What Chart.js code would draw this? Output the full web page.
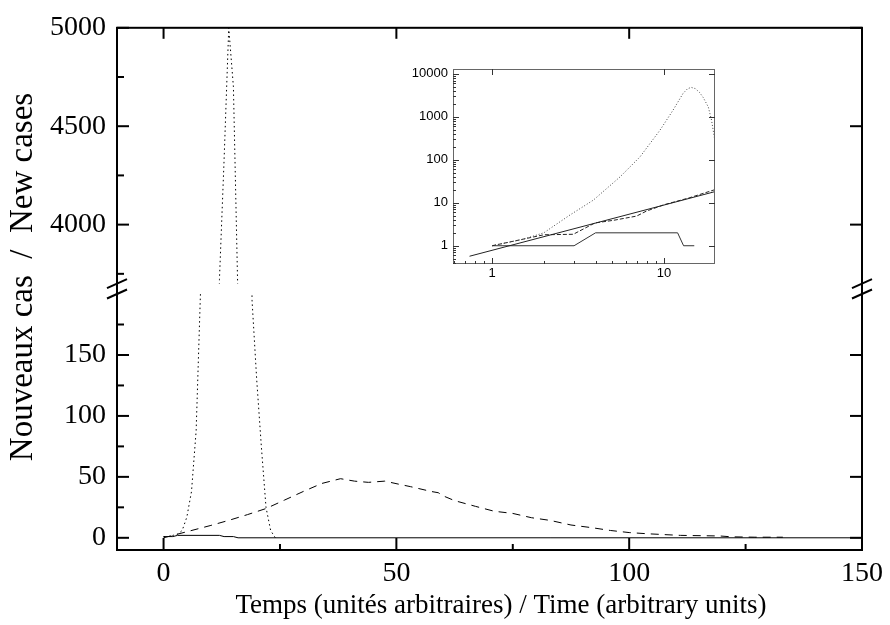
<!DOCTYPE html>
<html>
<head>
<meta charset="utf-8">
<script src="https://cdn.jsdelivr.net/npm/chart.js@4.4.1/dist/chart.umd.min.js"></script>
<style>
  html, body { margin: 0; padding: 0; background: #fff; }
  #wrap { position: relative; width: 890px; height: 625px; }
  #main { position: absolute; left: 0; top: 0; }
  #inset { position: absolute; left: 395px; top: 55px; }
</style>
</head>
<body>
<div id="wrap">
  <canvas id="main" width="890" height="625"></canvas>
  <canvas id="inset" width="335" height="235"></canvas>
</div>
<script>
// main panel : new cases vs time
var dottedDays  = [0, 1, 2, 3, 4, 5, 6, 7, 8, 9, 10, 11, 12, 13, 14, 15, 16, 17, 18, 19, 20, 21, 22, 23, 24]
var dottedCases = [1, 1, 2, 3, 6, 17, 38, 88, 210, 560, 1300, 2500, 3720, 4330, 5000, 4700, 3600, 2100, 800, 195, 130, 75, 25, 6, 0]

var dashedDays  = [0, 2, 5, 10, 14, 18, 22, 26, 30, 34, 38, 41, 44, 47.5, 50.5, 53, 57.5, 59, 60, 62.5, 67, 71, 75, 79, 83, 87.5, 92, 96, 100, 104, 111, 119.5, 122, 127, 133]
var dashedCases = [0, 2, 5, 10, 14.3, 19, 24, 31, 38, 44.6, 48.5, 46.5, 45.5, 46.5, 44, 42, 38, 37, 34.5, 30.5, 25.8, 21.8, 20, 16.5, 14.3, 10.5, 8.3, 6, 4.3, 3.3, 2, 1.5, 0.8, 0.5, 0.5]

var solidDays  = [0, 2, 3, 12, 13, 15, 16, 150]
var solidCases = [1, 1, 2, 2, 1, 1, 0, 0]

var xTicks = [0, 50, 100, 150]
var xMinor = [25, 75, 125]
var upperTicks = [4000, 4500, 5000]
var upperMinor = [3750, 4250, 4750]
var lowerTicks = [0, 50, 100, 150]
var lowerMinor = [25, 75, 125, 175]

var xTitle = 'Temps (unités arbitraires) / Time (arbitrary units)'
var yTitle = 'Nouveaux cas  /  New cases'

// inset : same thing on log-log axes
var insetDotX = [1, 1.5, 2, 2.84, 3.88, 5.55, 7.25, 9.48, 11.3, 12.9, 13.7, 14.4, 15.2, 16.1, 16.9, 18.1, 18.9, 20]
var insetDotY = [1, 1.4, 2, 5.2, 11.5, 40, 117, 490, 1440, 3500, 4500, 4860, 4550, 3700, 2830, 1700, 840, 210]

var insetDashX = [1, 2, 2.97, 3.97, 5.07, 6.93, 7.9, 10, 14, 20]
var insetDashY = [1, 1.8, 1.85, 3.4, 3.9, 4.9, 6.4, 9, 13, 20.5]

var insetFitX = [0.74, 20]
var insetFitY = [0.57, 18.4]

var insetStepX = [1, 3, 4, 12, 13, 15]
var insetStepY = [1, 1, 2, 2, 1, 1]

var insetXTicks = [1, 10]
var insetYTicks = [1, 10, 100, 1000, 10000]

function pts(xs, ys) {
  return xs.map(function (x, i) { return {x: x, y: ys[i]} })
}
function fixTicks(vals) {
  return function (scale) { scale.ticks = vals.map(function (v) { return {value: v} }) }
}
function line(ds) {
  return Object.assign({borderColor: '#000', borderWidth: 1, pointRadius: 0, tension: 0, fill: false}, ds)
}

Chart.defaults.font.family = 'Liberation Serif'
Chart.defaults.color = '#000'

var framePlugin = {
  id: 'frame',
  afterDraw: function (chart) {
    var ctx = chart.ctx, a = chart.chartArea
    var sx = chart.scales.x, st = chart.scales.yTop, sb = chart.scales.yBot
    function seg(x1, y1, x2, y2) { ctx.beginPath(); ctx.moveTo(x1, y1); ctx.lineTo(x2, y2); ctx.stroke() }
    ctx.save()
    ctx.strokeStyle = '#000'
    ctx.lineWidth = 2
    ctx.strokeRect(a.left, a.top, a.right - a.left, a.bottom - a.top)

    xTicks.forEach(function (v) {
      var p = sx.getPixelForValue(v)
      seg(p, a.bottom, p, a.bottom - 12)
      seg(p, a.top, p, a.top + 11)
    })
    xMinor.forEach(function (v) {
      var p = sx.getPixelForValue(v)
      seg(p, a.bottom, p, a.bottom - 6)
    })
    ;[[st, upperTicks, upperMinor], [sb, lowerTicks, lowerMinor]].forEach(function (g) {
      g[1].forEach(function (v) {
        var p = g[0].getPixelForValue(v)
        seg(a.left, p, a.left + 12, p)
        seg(a.right, p, a.right - 12, p)
      })
      g[2].forEach(function (v) {
        var p = g[0].getPixelForValue(v)
        seg(a.left, p, a.left + 7, p)
      })
    })

    // axis break marks
    ;[a.left, a.right].forEach(function (x) {
      ;[st.bottom, sb.top].forEach(function (y) { seg(x - 10, y + 4.5, x + 10, y - 4.5) })
    })

    ctx.fillStyle = '#000'
    ctx.textAlign = 'center'
    ctx.textBaseline = 'middle'
    ctx.font = '27px "Liberation Serif"'
    ctx.fillText(xTitle, 501, 606)
    ctx.translate(23, 277)
    ctx.rotate(-Math.PI / 2)
    ctx.font = '33px "Liberation Serif"'
    ctx.fillText(yTitle, 0, 0)
    ctx.restore()
  }
}

var yCommon = {
  type: 'linear', position: 'left', stack: 'v',
  grid: {display: false, drawTicks: false}, border: {display: false},
  afterFit: function (s) { s.width = 117 }
}

new Chart(document.getElementById('main'), {
  type: 'line',
  data: {
    datasets: [
      line({data: pts(dottedDays, dottedCases), yAxisID: 'yTop', borderDash: [1.5, 3]}),
      line({data: pts(dottedDays, dottedCases), yAxisID: 'yBot', borderDash: [1.5, 3]}),
      line({data: pts(dashedDays, dashedCases), yAxisID: 'yBot', borderDash: [8, 6]}),
      line({data: pts(solidDays, solidCases), yAxisID: 'yBot'})
    ]
  },
  options: {
    responsive: false, animation: false, devicePixelRatio: 1,
    layout: {padding: {left: 0, top: 21, right: 25, bottom: 0}},
    plugins: {legend: {display: false}, tooltip: {enabled: false}},
    scales: {
      x: {
        type: 'linear', min: -10, max: 150,
        grid: {display: false, drawTicks: false}, border: {display: false},
        afterBuildTicks: fixTicks(xTicks),
        afterFit: function (s) { s.height = 75 },
        ticks: {font: {size: 28}, padding: 7, maxRotation: 0, callback: function (v) { return String(v) }}
      },
      yTop: Object.assign({}, yCommon, {
        weight: 3, stackWeight: 259.2, min: 3700, max: 5000,
        afterBuildTicks: fixTicks(upperTicks),
        ticks: {font: {size: 28}, padding: 11, callback: function (v) { return String(v) }}
      }),
      yGap: Object.assign({}, yCommon, {
        weight: 2, stackWeight: 10.5, min: 0, max: 1,
        ticks: {display: false}
      }),
      yBot: Object.assign({}, yCommon, {
        weight: 1, stackWeight: 259.3, min: -10, max: 200,
        afterBuildTicks: fixTicks(lowerTicks),
        ticks: {font: {size: 28}, padding: 11, callback: function (v) { return String(v) }}
      })
    }
  },
  plugins: [framePlugin]
})

// inset
var insetPlugin = {
  id: 'insetFrame',
  afterDraw: function (chart) {
    var ctx = chart.ctx, a = chart.chartArea, sx = chart.scales.x, sy = chart.scales.y
    function seg(x1, y1, x2, y2) { ctx.beginPath(); ctx.moveTo(x1, y1); ctx.lineTo(x2, y2); ctx.stroke() }
    ctx.save()
    ctx.strokeStyle = '#666'
    ctx.lineWidth = 1
    ctx.strokeRect(a.left + 0.5, a.top + 0.5, a.right - a.left - 1, a.bottom - a.top - 1)
    ctx.strokeStyle = '#333'
    var yMinor = [], xMinor2 = []
    ;[0.1, 1, 10, 100, 1000].forEach(function (d) {
      for (var k = 2; k <= 9; k++) yMinor.push(k * d)
    })
    ;[0.1, 1, 10].forEach(function (d) {
      for (var k = 2; k <= 9; k++) xMinor2.push(k * d)
    })
    yMinor.filter(function (v) { return v > sy.min && v < sy.max }).forEach(function (v) {
      var p = Math.round(sy.getPixelForValue(v)) + 0.5
      seg(a.left, p, a.left + 3, p)
    })
    insetYTicks.forEach(function (v) {
      var p = Math.round(sy.getPixelForValue(v)) + 0.5
      seg(a.left, p, a.left + 6, p)
      seg(a.right, p, a.right - 6, p)
    })
    xMinor2.filter(function (v) { return v > sx.min && v < sx.max }).forEach(function (v) {
      var p = Math.round(sx.getPixelForValue(v)) + 0.5
      seg(p, a.bottom, p, a.bottom - 3)
    })
    insetXTicks.forEach(function (v) {
      var p = Math.round(sx.getPixelForValue(v)) + 0.5
      seg(p, a.bottom, p, a.bottom - 6)
      seg(p, a.top, p, a.top + 6)
    })
    ctx.restore()
  }
}

new Chart(document.getElementById('inset'), {
  type: 'line',
  data: {
    datasets: [
      line({data: pts(insetDotX, insetDotY), borderColor: '#444', borderDash: [1, 2]}),
      line({data: pts(insetDashX, insetDashY), borderColor: '#222', borderDash: [4, 2]}),
      line({data: pts(insetFitX, insetFitY), borderColor: '#222'}),
      line({data: pts(insetStepX, insetStepY), borderColor: '#333'})
    ]
  },
  options: {
    responsive: false, animation: false, devicePixelRatio: 1,
    layout: {padding: {left: 0, top: 14, right: 15, bottom: 0}},
    plugins: {legend: {display: false}, tooltip: {enabled: false}},
    scales: {
      x: {
        type: 'logarithmic', min: 0.593, max: 19.8,
        grid: {display: false, drawTicks: false}, border: {display: false},
        afterBuildTicks: fixTicks(insetXTicks),
        afterFit: function (s) { s.height = 26 },
        ticks: {font: {family: 'Liberation Sans', size: 13}, padding: 2, maxRotation: 0, callback: function (v) { return String(v) }}
      },
      y: {
        type: 'logarithmic', min: 0.376, max: 13000,
        grid: {display: false, drawTicks: false}, border: {display: false},
        afterBuildTicks: fixTicks(insetYTicks),
        afterFit: function (s) { s.width = 58 },
        ticks: {font: {family: 'Liberation Sans', size: 13}, padding: 5, callback: function (v) { return String(v) }}
      }
    }
  },
  plugins: [insetPlugin]
})
</script>
</body>
</html>
